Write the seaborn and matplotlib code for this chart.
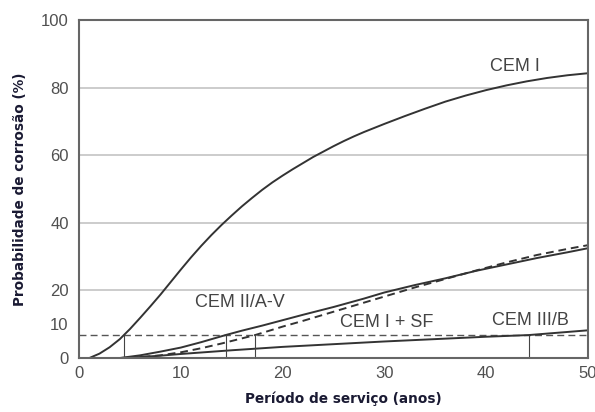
import matplotlib
matplotlib.use("Agg")
import matplotlib.pyplot as plt
import pandas as pd
import seaborn as sns

# Service period (years) and corrosion probability (%) per cement type
cem1_anos = [1, 2, 3, 4, 4.4, 5, 6, 7, 8, 9, 10, 11, 12, 13, 14, 15, 16, 17, 18, 19, 20,
             21, 22, 23, 24, 25, 26, 27, 28, 29, 30, 32, 34, 36, 38, 40, 42, 44, 46, 48, 50]
cem1_prob = [0, 1.3, 3.2, 5.6, 6.8, 8.6, 11.9, 15.3, 18.8, 22.5, 26.2, 29.8, 33.2, 36.4, 39.4, 42.2,
             44.9, 47.4, 49.8, 52.0, 54.0, 55.9, 57.7, 59.5, 61.1, 62.7, 64.2, 65.6, 66.9, 68.1,
             69.3, 71.6, 73.8, 75.9, 77.7, 79.3, 80.7, 81.9, 82.9, 83.7, 84.3]

cem2_anos = [4, 6, 8, 10, 12, 14.4, 16, 18, 20, 22, 25, 28, 30, 33, 36, 39, 42, 45, 48, 50]
cem2_prob = [0, 0.8, 1.9, 3.1, 4.7, 6.8, 8.1, 9.6, 11.2, 12.8, 15.1, 17.6, 19.4, 21.6, 23.6, 25.8,
             27.7, 29.6, 31.3, 32.5]

cemsf_anos = [5, 8, 10, 12, 14, 17.3, 20, 22, 25, 28, 30, 33, 36, 39, 42, 45, 48, 50]
cemsf_prob = [0, 0.8, 1.7, 2.9, 4.3, 6.8, 9.3, 11.0, 13.7, 16.4, 18.2, 20.9, 23.4, 25.9, 28.3,
              30.5, 32.3, 33.4]

cem3_anos = [4, 6, 8, 10, 15, 20, 25, 30, 35, 40, 44.2, 50]
cem3_prob = [0, 0.3, 0.7, 1.2, 2.3, 3.3, 4.1, 4.9, 5.6, 6.3, 6.8, 8.2]

# Target probability threshold and the years at which each curve reaches it
limite = 6.8
anos_limite = [4.4, 14.4, 17.3, 44.2]

curvas = pd.concat([
    pd.DataFrame({"anos": cem1_anos, "prob": cem1_prob, "cimento": "CEM I"}),
    pd.DataFrame({"anos": cem2_anos, "prob": cem2_prob, "cimento": "CEM II/A-V"}),
    pd.DataFrame({"anos": cemsf_anos, "prob": cemsf_prob, "cimento": "CEM I + SF"}),
    pd.DataFrame({"anos": cem3_anos, "prob": cem3_prob, "cimento": "CEM III/B"}),
], ignore_index=True)

sns.set_style("white")
plt.rcParams["font.family"] = ["Arial", "Liberation Sans", "DejaVu Sans"]

fig = plt.figure(figsize=(5.95, 4.12), dpi=100)
ax = fig.add_axes([0.133, 0.131, 0.855, 0.820])

# Light horizontal grid
for g in [20, 40, 60, 80]:
    ax.axhline(g, color="#c8c8c8", lw=1.3, zorder=0)

linha = "#333333"
sns.lineplot(data=curvas, x="anos", y="prob", hue="cimento", style="cimento",
             palette={"CEM I": linha, "CEM II/A-V": linha, "CEM I + SF": linha, "CEM III/B": linha},
             dashes={"CEM I": "", "CEM II/A-V": "", "CEM I + SF": (4, 2.5), "CEM III/B": ""},
             sort=True, estimator=None, lw=1.4, legend=False, ax=ax)

# Threshold line and markers where each curve reaches it
ax.axhline(limite, color="#555555", lw=1.0, ls=(0, (5, 3)), zorder=1)
ax.vlines(anos_limite, 0, limite, color="#444444", lw=0.8)

rot = dict(color="#444444", fontsize=13, ha="center", va="center")
ax.text(42.8, 86.4, "CEM I", **rot)
ax.text(15.8, 16.4, "CEM II/A-V", **rot)
ax.text(30.2, 10.5, "CEM I + SF", **rot)
ax.text(44.4, 11.2, "CEM III/B", **rot)

ax.set_xlim(0, 50)
ax.set_ylim(0, 100)
ax.set_xticks([0, 10, 20, 30, 40, 50])
ax.set_yticks([0, 10, 20, 40, 60, 80, 100])
ax.set_yticks([30, 50, 70, 90], minor=True)
ax.tick_params(axis="x", direction="in", length=5, width=1, colors="#505050", labelsize=12, pad=6)
ax.tick_params(axis="y", which="both", direction="out", length=4, width=1, colors="#505050", labelsize=12)
ax.tick_params(axis="y", which="minor", length=3)

for s in ax.spines.values():
    s.set_color("#666666")
    s.set_linewidth(1.5)

lab = dict(fontsize=9.8, fontweight="bold", color="#1a1a33", family="DejaVu Sans")
ax.set_xlabel("Período de serviço (anos)", labelpad=9, **lab)
ax.xaxis.set_label_coords(0.52, -0.1)
ax.set_ylabel("Probabilidade de corrosão (%)", labelpad=10, **lab)

fig.savefig("out.png", dpi=100)
